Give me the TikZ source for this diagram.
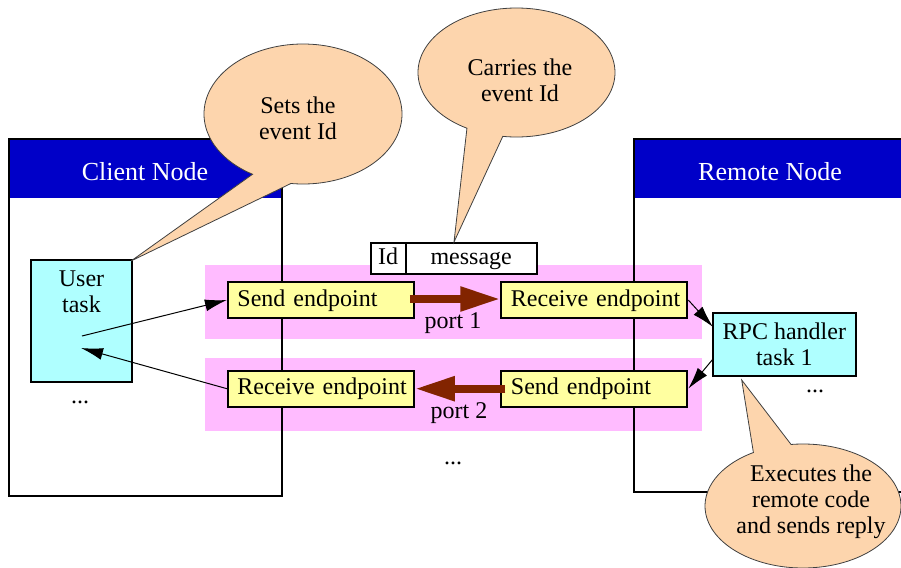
\documentclass[tikz,border=0pt]{standalone}
\usepackage{fontspec}
\setmainfont{Liberation Serif}
\usetikzlibrary{arrows.meta,calc}
\definecolor{hdrblue}{RGB}{0,0,200}
\definecolor{taskcyan}{RGB}{175,255,255}
\definecolor{epyellow}{RGB}{255,255,160}
\definecolor{bandpink}{RGB}{255,187,255}
\definecolor{callpeach}{RGB}{253,213,173}
\definecolor{portred}{RGB}{130,36,0}
\begin{document}
\begin{tikzpicture}[x=0.5pt,y=-0.5pt,font=\fontsize{12}{13}\selectfont,
  ep/.style={draw,line width=1pt,fill=epyellow,minimum height=18pt,text width=83.4pt,inner xsep=4.75pt,inner ysep=0pt,align=left,text height=8.5pt,text depth=2.5pt},
  taskbox/.style={draw,line width=1pt,fill=taskcyan,inner sep=0pt},
  cell/.style={draw,line width=1pt,fill=white,inner sep=0pt,minimum height=15.65pt,text height=8.5pt,text depth=2.5pt},
  thinarrow/.style={-{Latex[length=11pt,width=6pt]},line width=0.5pt},
  bigarrow/.style={-{Triangle[length=20pt,width=11.5pt]},line width=4pt,draw=portred},
  callout/.style={fill=callpeach,draw=black!75,line width=0.4pt},
  hdr/.style={text=white,font=\fontsize{13}{15}\selectfont},
  band/.style={fill=bandpink},
  txt/.style={align=center,inner sep=0pt}]
\clip (0,0) rectangle (901,568);
\fill[white] (0,0) rectangle (901,568);
% headers
\fill[hdrblue] (9,139) rectangle (282,198);
\fill[hdrblue] (634,139) rectangle (950,198);
\node[hdr] (cnt) at (145,172) {Client Node};
\node[hdr] (rnt) at (770,172) {Remote Node};
% bands
\fill[band] (205,265) rectangle (702,339);
\fill[band] (205,358) rectangle (702,431);
% node outlines
\draw[line width=1pt] (9,139) rectangle (282,496);
\draw[line width=1pt] (950,139) -- (634,139) -- (634,492) -- (950,492);
% user task
\node[taskbox,minimum width=50.5pt,minimum height=60.85pt] (ut) at (81.5,320.85) {};
\node[txt] (utt) at (81.5,292) {User\\task};
\coordinate (ua) at (82,336);
\coordinate (ub) at (81,348);
% endpoints
\node[ep] (se1) at (320.85,300) {\mbox{Send endpoint}};
\node[ep] (re1) at (594.35,300) {\mbox{Receive endpoint}};
\node[ep] (re2) at (320.85,388.7) {\mbox{Receive endpoint}};
\node[ep] (se2) at (594.35,388.7) {\mbox{Send endpoint}};
% message
\node[cell,minimum width=17.5pt] (idc) at (388.2,258.35) {Id};
\node[cell,minimum width=65.5pt] (msg) at (471.2,258.35) {message};
% rpc
\node[taskbox,minimum width=71.35pt,minimum height=31.65pt,align=center] (rpc) at (784.35,344.35) {RPC handler\\task 1};
\coordinate (r1) at (713,327);
\coordinate (r2) at (713,359);
% port arrows
\draw[bigarrow] ($(se1.east)+(-5,-1)$) -- ($(re1.west)+(0,-1)$);
\draw[bigarrow] ($(se2.west)+(5,0)$) -- (re2.east);
\node (p1) at (453,323) {port 1};
\node (p2) at (459,413) {port 2};
% thin arrows
\draw[thinarrow] (ua) -- (se1.west);
\draw[thinarrow] (re2.west) -- (ub);
\draw[thinarrow] (re1.east) -- (r1);
\draw[thinarrow] (r2) -- (se2.east);
% dots
\node (d1) at (80,402) {...};
\node (d2) at (815,391) {...};
\node (d3) at (453,463) {...};
% callouts
\coordinate (c1) at (303,114);
\coordinate (t1) at (131,261);
\draw[callout] (t1) -- ($(c1)+(120.6:99 and 70)$) arc[start angle=120.6,end angle=457,x radius=99,y radius=70] -- cycle;
\node[txt] (ct1) at (298,118) {Sets the\\event Id};
\coordinate (c2) at (516.5,72.5);
\coordinate (t2) at (454,242);
\draw[callout] (t2) -- ($(c2)+(120.2:98.5 and 64.5)$) arc[start angle=120.2,end angle=458,x radius=98.5,y radius=64.5] -- cycle;
\node[txt] (ct2) at (520,80) {Carries the\\event Id};
\coordinate (c3) at (803,506);
\coordinate (t3) at (741.7,380);
\draw[callout] (t3) -- ($(c3)+(263:98 and 62)$) arc[start angle=263,end angle=599.6,x radius=98,y radius=62] -- cycle;
\node[txt] (ct3) at (811,502) {Executes the\\remote code\\and sends reply};
\end{tikzpicture}
\end{document}
